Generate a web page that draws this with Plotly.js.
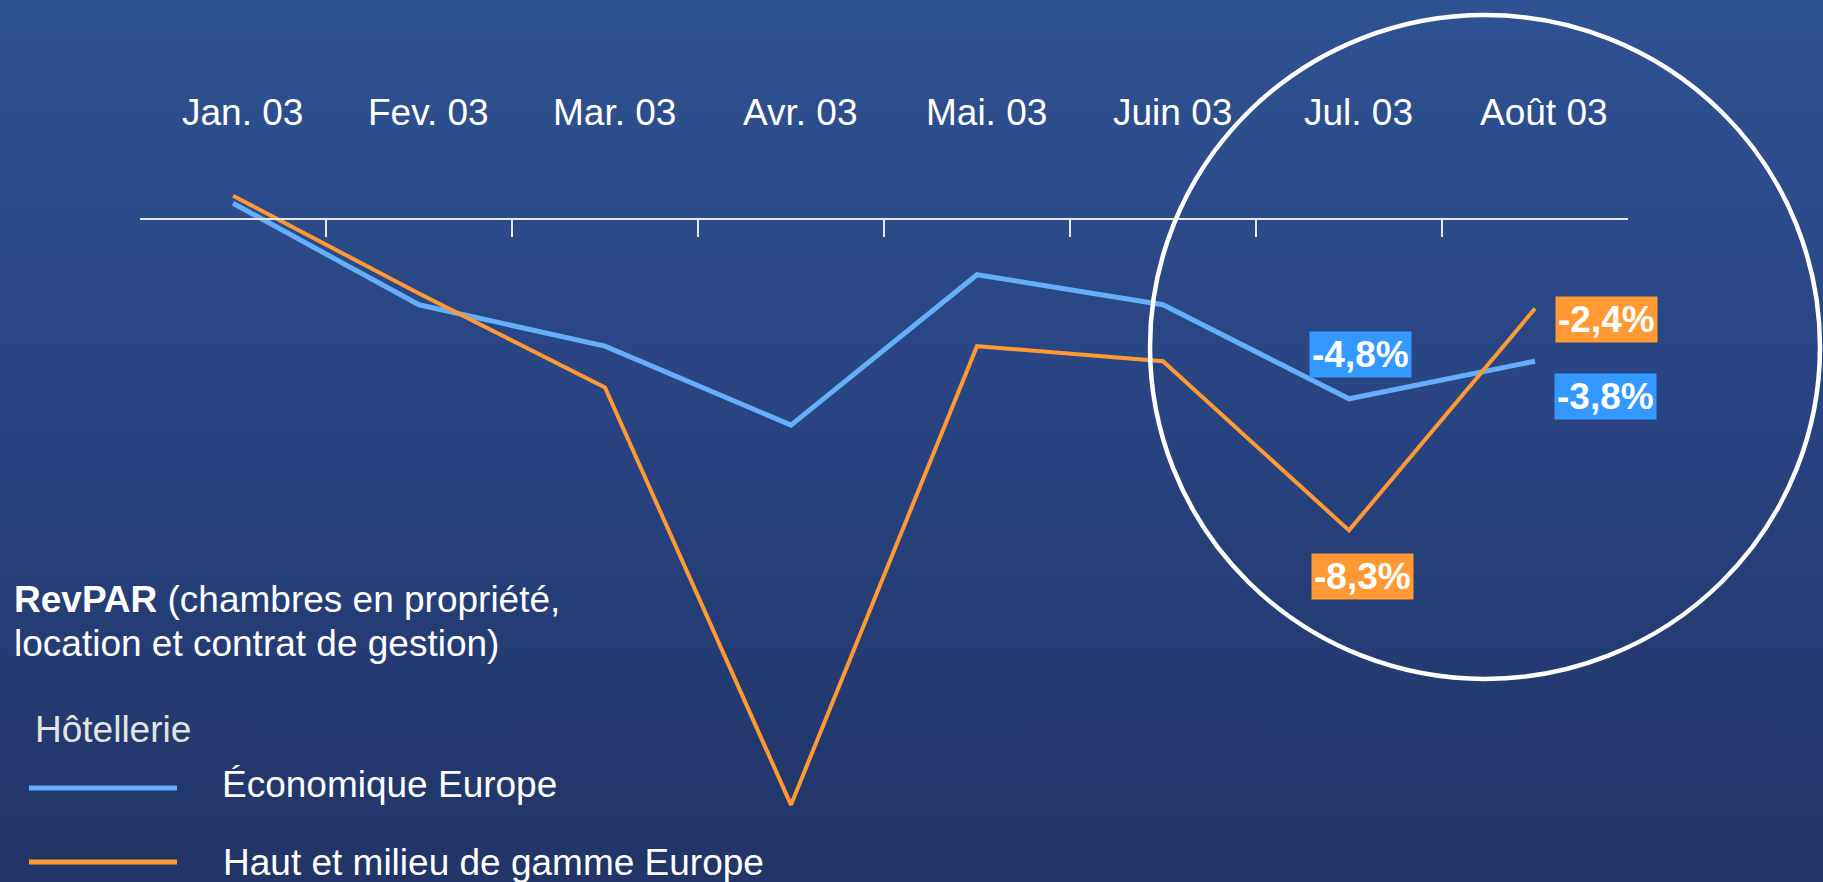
<!DOCTYPE html>
<html><head><meta charset="utf-8">
<script src="https://cdn.plot.ly/plotly-3.0.1.min.js"></script>
<style>
html,body{margin:0;padding:0;}
body{width:1823px;height:882px;overflow:hidden;background:linear-gradient(to bottom,#2F5292 0%,#284380 50%,#213566 100%);}
#chart{width:1823px;height:882px;}
</style></head><body><div id="chart"></div>
<script>
// ---- data ----
const categories = ['Jan. 03','Fev. 03','Mar. 03','Avr. 03','Mai. 03','Juin 03','Jul. 03','Août 03'];
const economique = [0.4, -2.3, -3.4, -5.5, -1.5, -2.3, -4.8, -3.8];
const hautMilieu = [0.6, -2.0, -4.5, -15.6, -3.4, -3.8, -8.3, -2.4];
const seriesNames = ['Économique Europe', 'Haut et milieu de gamme Europe'];
const legendTitle = 'Hôtellerie';
const noteBold = 'RevPAR';
const noteLine1 = ' (chambres en propriété,';
const noteLine2 = 'location et contrat de gestion)';
const labelledIdx = [6, 7];

// ---- layout helpers ----
const W = 1823, H = 882, L = 140, R = 195, T = 0, B = 0;
const PW = W - L - R, PH = H - T - B;
const px2x = p => (p - L) / PW;
const px2y = p => 1 - (p - T) / PH;
const zeroPx = 218.3, pxPerUnit = 37.6;
const yMax = zeroPx / pxPerUnit, yMin = yMax - PH / pxPerUnit;

const blue = '#64AEFA', orange = '#FF9933';
const blueBox = '#3399FF', orangeBox = '#FF9933';
const FONT = 'Liberation Sans, Arial, sans-serif';

const fmt = v => v.toFixed(1).replace('.', ',') + '%';
const xIdx = categories.map((c, i) => i);
const boundaries = categories.slice(1).map((c, i) => i + 0.5);

const traces = [
  {x: xIdx, y: economique, name: seriesNames[0], mode: 'lines', line: {color: blue, width: 5}, hoverinfo: 'skip'},
  {x: xIdx, y: hautMilieu, name: seriesNames[1], mode: 'lines', line: {color: orange, width: 4}, hoverinfo: 'skip'}
];

const annotations = [];
// month labels
categories.forEach((c, i) => annotations.push({
  x: xIdx[i], xref: 'x', y: px2y(112), yref: 'paper', text: c, showarrow: false,
  xshift: 9, yanchor: 'middle', font: {family: FONT, size: 37, color: '#FFFFFF'}
}));
// value labels
const labelShift = {
  eco: [{xs: 11, ys: 44}, {xs: 70, ys: -35}],
  haut: [{xs: 13, ys: -46}, {xs: 71, ys: -11}]
};
labelledIdx.forEach((i, k) => {
  annotations.push({x: xIdx[i], y: economique[i], xref: 'x', yref: 'y', text: '<b>' + fmt(economique[i]) + '</b>',
    showarrow: false, xshift: labelShift.eco[k].xs, yshift: labelShift.eco[k].ys, bgcolor: blueBox, borderpad: 2,
    font: {family: FONT, size: 37, color: '#FFFFFF'}});
  annotations.push({x: xIdx[i], y: hautMilieu[i], xref: 'x', yref: 'y', text: '<b>' + fmt(hautMilieu[i]) + '</b>',
    showarrow: false, xshift: labelShift.haut[k].xs, yshift: labelShift.haut[k].ys, bgcolor: orangeBox, borderpad: 2,
    font: {family: FONT, size: 37, color: '#FFFFFF'}});
});
// note & legend texts
const txt = (text, xpx, ypx, color) => ({x: px2x(xpx), y: px2y(ypx), xref: 'paper', yref: 'paper', text: text,
  showarrow: false, xanchor: 'left', yanchor: 'middle', align: 'left', font: {family: FONT, size: 37, color: color || '#FFFFFF'}});
annotations.push(txt('<b>' + noteBold + '</b>' + noteLine1, 12, 599));
annotations.push(txt(noteLine2, 12, 643));
annotations.push(txt(legendTitle, 33, 729, '#E4E4E4'));
annotations.push(txt(seriesNames[0], 220, 784));
annotations.push(txt(seriesNames[1], 221, 862));

const shapes = [
  {type: 'line', xref: 'paper', yref: 'paper', x0: px2x(29), x1: px2x(177), y0: px2y(788), y1: px2y(788), line: {color: blue, width: 5}},
  {type: 'line', xref: 'paper', yref: 'paper', x0: px2x(29), x1: px2x(177), y0: px2y(862), y1: px2y(862), line: {color: orange, width: 5}},
  {type: 'circle', xref: 'paper', yref: 'paper', x0: px2x(1150), x1: px2x(1820), y0: px2y(679), y1: px2y(15), line: {color: '#FFFFFF', width: 4.5}}
];

const layout = {
  width: W, height: H,
  margin: {l: L, r: R, t: T, b: B, pad: 0},
  paper_bgcolor: 'rgba(0,0,0,0)', plot_bgcolor: 'rgba(0,0,0,0)',
  showlegend: false,
  xaxis: {type: 'linear', range: [-0.5, categories.length - 0.5],
    anchor: 'free', position: px2y(zeroPx), showline: true, linecolor: '#E8E8E8', linewidth: 1.2,
    ticks: 'outside', tickmode: 'array', tickvals: boundaries, ticklen: 17, tickwidth: 1.2, tickcolor: '#E8E8E8',
    showticklabels: false, showgrid: false, zeroline: false, fixedrange: true},
  yaxis: {range: [yMin, yMax], visible: false, showgrid: false, zeroline: false, fixedrange: true},
  annotations: annotations,
  shapes: shapes
};

Plotly.newPlot('chart', traces, layout, {displayModeBar: false, staticPlot: true});
</script></body></html>
